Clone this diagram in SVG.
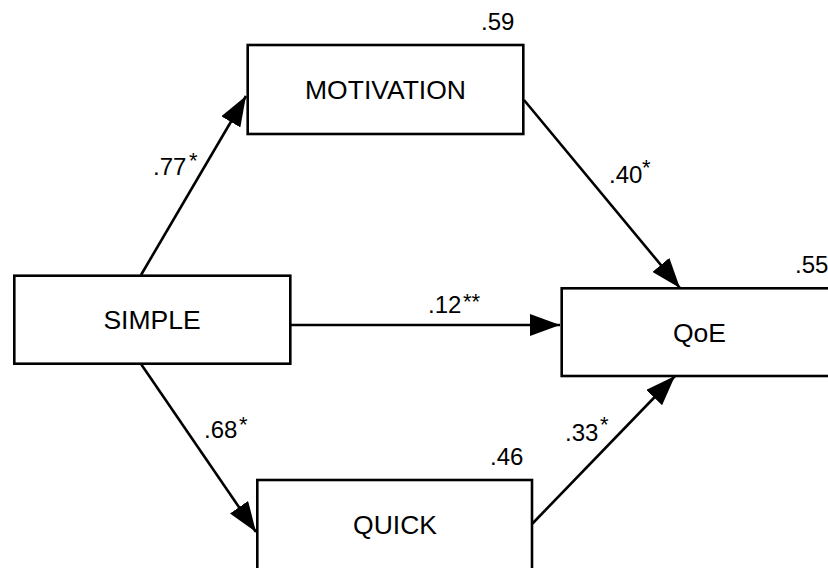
<svg xmlns="http://www.w3.org/2000/svg" width="828" height="568" viewBox="0 0 828 568">
  <style>
    .box { fill: #fff; stroke: #000; stroke-width: 2.6; }
    .name { font-family: "Liberation Sans", Arial, sans-serif; font-size: 26.5px; fill: #000; text-anchor: middle; }
    .lab { font-family: "Liberation Sans", Arial, sans-serif; font-size: 24px; fill: #000; }
    .star { font-family: "Liberation Sans", Arial, sans-serif; font-size: 22px; fill: #000; }
    .edge { stroke: #000; stroke-width: 2.6; fill: none; marker-end: url(#arrow); }
  </style>
  <defs>
    <marker id="arrow" markerUnits="userSpaceOnUse" markerWidth="31" markerHeight="22" refX="30" refY="11" orient="auto">
      <path d="M0,0 L30,11 L0,22 Z" fill="#000"/>
    </marker>
  </defs>
  <rect width="828" height="568" fill="#fff"/>
  <g id="connectors">
    <line class="edge" x1="141" y1="275" x2="246" y2="96"/>
    <line class="edge" x1="290" y1="325" x2="560" y2="325"/>
    <line class="edge" x1="141" y1="364" x2="256" y2="532"/>
    <line class="edge" x1="524" y1="100" x2="680" y2="288"/>
    <line class="edge" x1="532" y1="524" x2="675" y2="376"/>
    <text class="lab" x="153" y="175">.77</text><text class="star" x="189" y="167.5">*</text>
    <text class="lab" x="609" y="183">.40</text><text class="star" x="642" y="175">*</text>
    <text class="lab" x="428" y="313">.12</text><text class="star" x="463" y="309">**</text>
    <text class="lab" x="204" y="438">.68</text><text class="star" x="239" y="432">*</text>
    <text class="lab" x="565" y="441">.33</text><text class="star" x="600" y="432">*</text>
  </g>
  <g id="node-motivation">
    <rect class="box" x="247.7" y="45" width="275.6" height="89"/>
    <text class="name" x="385.5" y="99">MOTIVATION</text>
    <text class="lab" x="481" y="30">.59</text>
  </g>
  <g id="node-simple">
    <rect class="box" x="14.3" y="275.7" width="276" height="88"/>
    <text class="name" x="152" y="329">SIMPLE</text>
  </g>
  <g id="node-qoe">
    <rect class="box" x="561.7" y="288.3" width="276" height="87.7"/>
    <text class="name" x="699.5" y="341.5">QoE</text>
    <text class="lab" x="795" y="273">.55</text>
  </g>
  <g id="node-quick">
    <rect class="box" x="257.3" y="480" width="274.7" height="100"/>
    <text class="name" x="395" y="534">QUICK</text>
    <text class="lab" x="490" y="465">.46</text>
  </g>
</svg>
